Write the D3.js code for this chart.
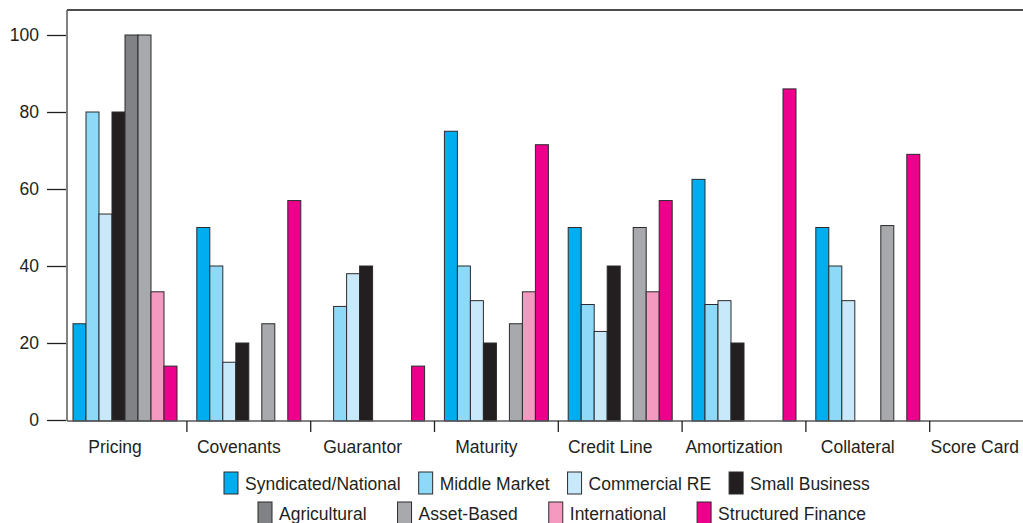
<!DOCTYPE html>
<html>
<head>
<meta charset="utf-8">
<script src="https://cdn.jsdelivr.net/npm/d3@7"></script>
<style>
  html, body { margin: 0; padding: 0; background: #fff; }
  svg { display: block; font-family: "Liberation Sans", Arial, sans-serif; }
</style>
</head>
<body>
<svg id="chart" width="1023" height="523"></svg>
<script>
// ---- Data ----
const categories = ["Pricing", "Covenants", "Guarantor", "Maturity", "Credit Line", "Amortization", "Collateral", "Score Card"];
const seriesNames = ["Syndicated/National", "Middle Market", "Commercial RE", "Small Business", "Agricultural", "Asset-Based", "International", "Structured Finance"];
const seriesColors = ["#00aeef", "#8ed8f8", "#c8e9f9", "#231f20", "#808285", "#a7a9ac", "#f49ac1", "#ec008c"];

const syndicatedNational = [25, 50, null, 75, 50, 62.5, 50, null];
const middleMarket       = [80, 40, 29.5, 40, 30, 30, 40, null];
const commercialRE       = [53.5, 15, 38, 31, 23, 31, 31, null];
const smallBusiness      = [80, 20, 40, 20, 40, 20, null, null];
const agricultural       = [100, null, null, null, null, null, null, null];
const assetBased         = [100, 25, null, 25, 50, null, 50.5, null];
const international      = [33.3, null, null, 33.3, 33.3, null, null, null];
const structuredFinance  = [14, 57, 14, 71.5, 57, 86, 69, null];

const seriesValues = [syndicatedNational, middleMarket, commercialRE, smallBusiness,
                      agricultural, assetBased, international, structuredFinance];

const yTicks = [0, 20, 40, 60, 80, 100];

// ---- Layout ----
const svg = d3.select("#chart");
const W = 1023;
const mLeft = 67, mTop = 10, mBottom = 421, mRight = 1023;
const step = 123.8, bw = 104;
const pInner = 1 - bw / step;
const pOuter = 6 / step;
const rangeEnd = mLeft + step * (categories.length - pInner + 2 * pOuter);

const x = d3.scaleBand().domain(categories).range([mLeft, rangeEnd])
  .paddingInner(pInner).paddingOuter(pOuter);
const xs = d3.scaleBand().domain(seriesNames).range([0, x.bandwidth()]);
const y = d3.scaleLinear().domain([0, 100]).range([420, 35]);

// frame top line
svg.append("line").attr("x1", mLeft).attr("x2", mRight).attr("y1", mTop).attr("y2", mTop)
  .attr("stroke", "#4d4d4f").attr("stroke-width", 2);

// bars
const barData = [];
seriesValues.forEach((vals, si) => {
  vals.forEach((v, ci) => {
    if (v !== null) barData.push({ cat: categories[ci], s: seriesNames[si], si, v });
  });
});
svg.append("g").selectAll("rect").data(barData).join("rect")
  .attr("x", d => x(d.cat) + xs(d.s))
  .attr("y", d => y(d.v))
  .attr("width", xs.bandwidth())
  .attr("height", d => mBottom - y(d.v))
  .attr("fill", d => seriesColors[d.si])
  .attr("stroke", "#2b2b2d").attr("stroke-width", 1);

// y axis
const yAxis = d3.axisLeft(y).tickValues(yTicks).tickSize(19).tickPadding(8);
const yg = svg.append("g").attr("transform", `translate(${mLeft - 1},0)`).call(yAxis);
yg.select(".domain").remove();
yg.selectAll(".tick line").attr("stroke", "#231f20").attr("stroke-width", 1.3);
yg.selectAll(".tick text").attr("font-size", 17.5).attr("fill", "#231f20")
  .attr("font-family", "Liberation Sans, Arial, sans-serif");
svg.append("line").attr("x1", mLeft).attr("x2", mLeft).attr("y1", mTop).attr("y2", mBottom)
  .attr("stroke", "#58595b").attr("stroke-width", 1.5);

// x axis
svg.append("line").attr("x1", mLeft).attr("x2", mRight).attr("y1", mBottom).attr("y2", mBottom)
  .attr("stroke", "#58595b").attr("stroke-width", 1.5);
const xAxis = d3.axisBottom(x).tickSize(0).tickPadding(20);
const xg = svg.append("g").attr("transform", `translate(0,${mBottom})`).call(xAxis);
xg.select(".domain").remove();
xg.selectAll(".tick text").attr("font-size", 17.5).attr("fill", "#231f20")
  .attr("dx", -10).attr("font-family", "Liberation Sans, Arial, sans-serif");
// keep the last label inside the picture
xg.selectAll(".tick").each(function () {
  const t = d3.select(this).select("text");
  const box = this.getBBox();
  const m = this.getCTM();
  const rightEdge = m.e + box.x + box.width;
  if (rightEdge > W - 4) t.attr("dx", -10 - (rightEdge - (W - 4)));
});
// boundary tick marks
svg.append("g").selectAll("line").data(categories.slice(1)).join("line")
  .attr("x1", d => x(d) - x.step() * pInner / 2)
  .attr("x2", d => x(d) - x.step() * pInner / 2)
  .attr("y1", mBottom).attr("y2", mBottom + 11)
  .attr("stroke", "#231f20").attr("stroke-width", 1.3);

// legend
const swW = 14, swH = 22;
const legendRows = [
  { items: [0, 1, 2, 3], x0: 224, yTop: 472, gap: 18 },
  { items: [4, 5, 6, 7], x0: 258, yTop: 502, gap: 31 }
];
const lg = svg.append("g");
legendRows.forEach(row => {
  let cx = row.x0;
  row.items.forEach(si => {
    const g = lg.append("g");
    g.append("rect").attr("x", cx).attr("y", row.yTop).attr("width", swW).attr("height", swH)
      .attr("fill", seriesColors[si]).attr("stroke", "#2b2b2d").attr("stroke-width", 1);
    const tx = cx + swW + 7;
    const t = g.append("text")
      .attr("x", tx).attr("y", row.yTop + 17.5)
      .attr("font-size", 17.5).attr("fill", "#231f20")
      .text(seriesNames[si]);
    const w = t.node().getComputedTextLength();
    cx = tx + w + row.gap;
  });
});
</script>
</body>
</html>
